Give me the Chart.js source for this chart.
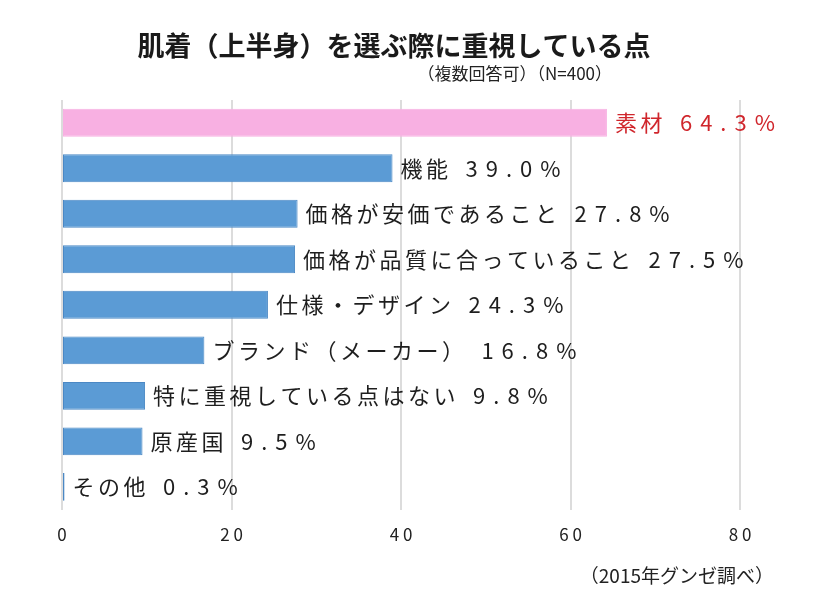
<!DOCTYPE html>
<html lang="ja">
<head>
<meta charset="utf-8">
<title>肌着（上半身）を選ぶ際に重視している点</title>
<script src="https://cdn.jsdelivr.net/npm/chart.js@4"></script>
<style>
  html, body { margin: 0; padding: 0; background: #fff; }
  #wrap { width: 820px; height: 600px; }
</style>
</head>
<body>
<div id="wrap"><canvas id="chart" width="820" height="600"></canvas></div>
<script>
'use strict';

const categories = [
  '素材',
  '機能',
  '価格が安価であること',
  '価格が品質に合っていること',
  '仕様・デザイン',
  'ブランド（メーカー）',
  '特に重視している点はない',
  '原産国',
  'その他',
];
const percents = [64.3, 39.0, 27.8, 27.5, 24.3, 16.8, 9.8, 9.5, 0.3];
const xTicks = [0, 20, 40, 60, 80];

const titleText = '肌着（上半身）を選ぶ際に重視している点';
const subtitleText = '（複数回答可）（N=400）';
const sourceText = '（2015年グンゼ調べ）';

const FONT = '"Noto Sans CJK JP", "Noto Sans", sans-serif';
const PINK = '#f8b0e2';
const BLUE = '#5b9bd5';

// Text drawn on the canvas: title, note, source and the bar labels
const textPlugin = {
  id: 'texts',
  afterDatasetsDraw(chart) {
    const { ctx } = chart;
    ctx.save();
    ctx.textBaseline = 'middle';

    ctx.fillStyle = '#1a1a1a';
    ctx.font = `bold 27px ${FONT}`;
    ctx.textAlign = 'center';
    ctx.fillText(titleText, 394, 46);

    ctx.font = `17px ${FONT}`;
    ctx.textAlign = 'right';
    ctx.fillStyle = '#222';
    ctx.fillText(subtitleText, 612, 74);

    ctx.font = `19px ${FONT}`;
    ctx.fillText(sourceText, 774, 576);

    // labels after each bar
    const meta = chart.getDatasetMeta(0);
    ctx.textAlign = 'left';
    meta.data.forEach((bar, i) => {
      ctx.fillStyle = i === 0 ? '#d0262c' : '#1e1e1e';
      ctx.font = `22px ${FONT}`;
      ctx.letterSpacing = '3.5px';
      const x = bar.x + 8;
      ctx.fillText(categories[i], x, bar.y);
      const w = ctx.measureText(categories[i]).width;
      ctx.letterSpacing = '8px';
      ctx.fillText(percents[i].toFixed(1) + '%', x + w + 14, bar.y);
    });
    ctx.restore();
  }
};

new Chart(document.getElementById('chart'), {
  type: 'bar',
  data: {
    labels: categories,
    datasets: [{
      data: percents,
      backgroundColor: percents.map((_, i) => i === 0 ? PINK : BLUE),
      borderColor: percents.map((_, i) => i === 0 ? PINK : '#4b88c4'),
      borderWidth: 1,
      borderSkipped: false,
      barPercentage: 0.9,
      categoryPercentage: 0.68,
    }],
  },
  options: {
    indexAxis: 'y',
    responsive: false,
    animation: false,
    layout: { padding: { top: 100, left: 62, right: 80, bottom: 40 } },
    plugins: {
      legend: { display: false },
      tooltip: { enabled: false },
      title: { display: false },
    },
    scales: {
      x: {
        min: 0,
        max: 80,
        afterBuildTicks: axis => {
          axis.ticks = xTicks.map(v => ({ value: v }));
        },
        grid: { color: '#dcdcdc', lineWidth: 2, drawTicks: false },
        border: { display: false },
        ticks: {
          padding: 15,
          color: '#222',
          font: { family: FONT, size: 17 },
          maxRotation: 0,
          callback: v => String(v).split('').join(' '),
        },
      },
      y: { display: false },
    },
  },
  plugins: [textPlugin],
});
</script>
</body>
</html>
